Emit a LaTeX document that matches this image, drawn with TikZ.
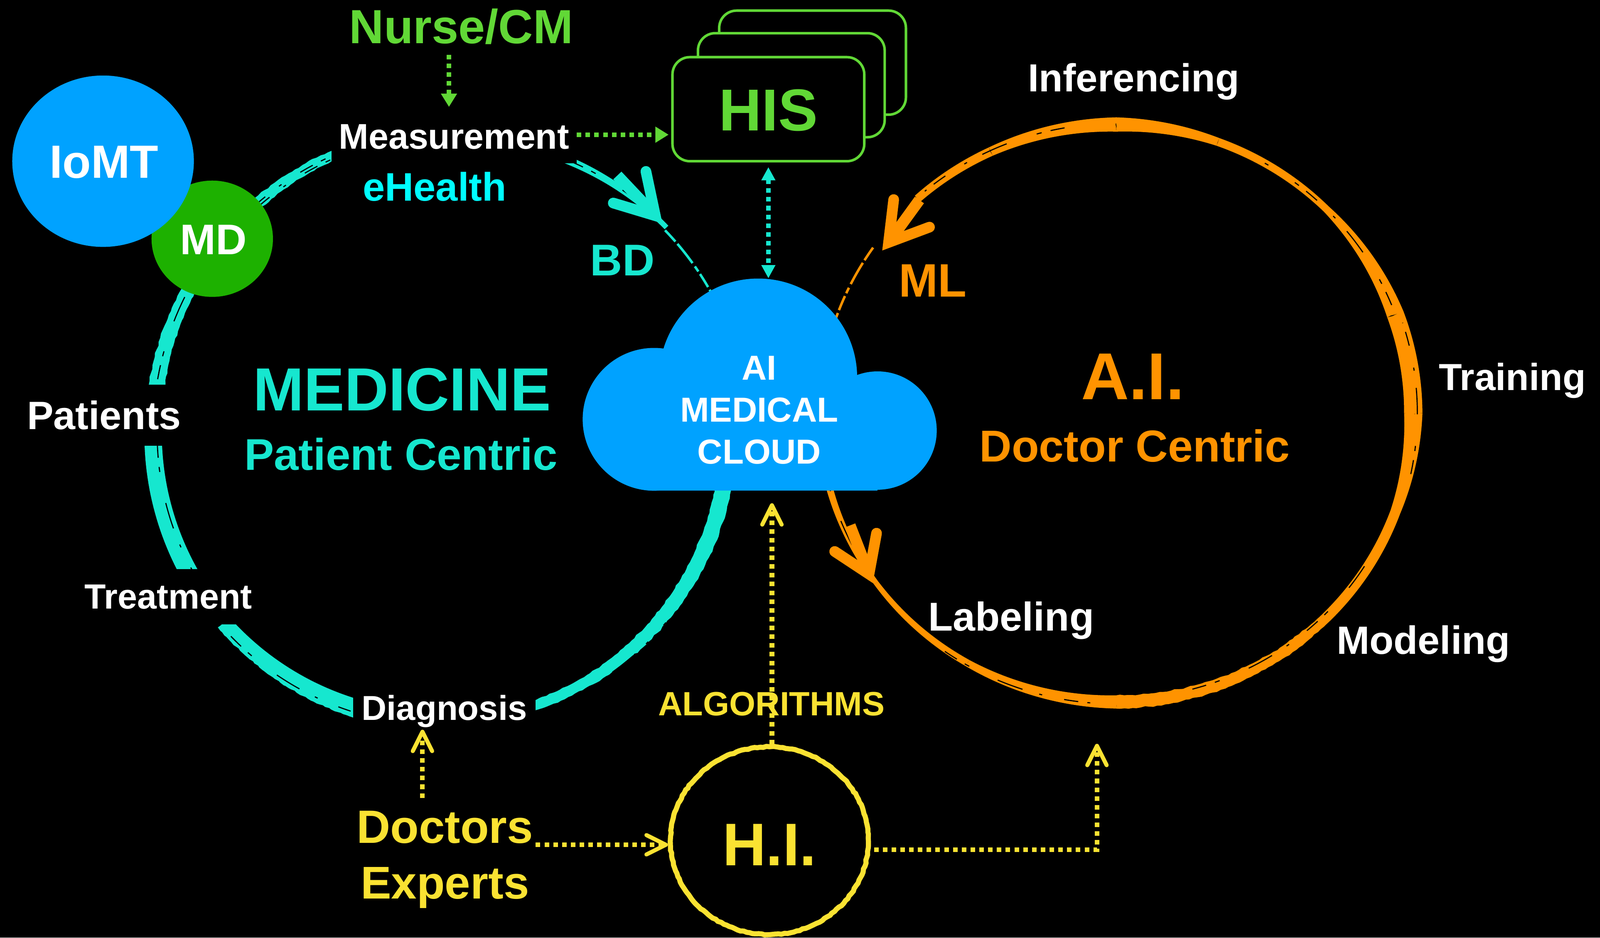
\documentclass[tikz,border=0pt]{standalone}
\usepackage{fontspec}
\setmainfont{Liberation Sans}
\usetikzlibrary{arrows.meta,shapes.geometric,decorations.pathmorphing}
\definecolor{tealmed}{HTML}{16E7CF}
\definecolor{orangeai}{HTML}{FF9300}
\definecolor{greenhis}{HTML}{61D836}
\definecolor{yellowhi}{HTML}{FAE232}
\definecolor{bluecloud}{HTML}{00A2FF}
\definecolor{greenmd}{HTML}{1DB100}
\definecolor{cyanhealth}{HTML}{00FDFF}
\tikzset{
  lbl/.style={inner sep=0pt,font=\bfseries\fontsize{#1}{#1}\selectfont},
  mask/.style={fill=black,inner sep=0pt},
  cloudpart/.style={circle,fill=bluecloud,inner sep=0pt},
  hisbox/.style={draw=greenhis,fill=black,line width=2.5pt,rounded corners=17pt,minimum width=183pt,minimum height=102pt,inner sep=0pt},
  rough/.style={decorate,decoration={random steps,segment length=4pt,amplitude=.8pt}},
  streak/.style={line width=1.1pt,dash pattern=on 14pt off 9pt on 5pt off 31pt on 26pt off 17pt on 3pt off 22pt},
  scratch/.style={line width=2.4pt,dash pattern=on 15pt off 3pt on 24pt off 4pt on 6pt off 3pt},
  barbhead/.style={line width=10.5pt,line cap=round,line join=miter},
  shafthead/.style={line width=11pt},
  dotgreen/.style={greenhis,line width=4.5pt,dash pattern=on 4.5pt off 4.1pt,-{Triangle[length=13pt,width=15pt]}},
  dotteal/.style={tealmed,line width=4.5pt,dash pattern=on 4.5pt off 4.1pt,{Triangle[length=13pt,width=13pt]}-{Triangle[length=13pt,width=13pt]}},
  dotyellow/.style={yellowhi,line width=4.5pt,dash pattern=on 4.5pt off 4.1pt,-{Straight Barb[length=19pt,width=19pt,line width=4pt,round]}}
}
% color, cx, cy, rx, ry, start angle, end angle, start width, end width
\newcommand{\brusharc}[9]{\fill[#1,rough] plot[domain=#6:#7,samples=30,variable=\t] ({#2+(#4+(#8+(#9-#8)*(\t-(#6))/(#7-(#6)))/2)*cos(\t)},{#3+(#5+(#8+(#9-#8)*(\t-(#6))/(#7-(#6)))/2)*sin(\t)}) -- plot[domain=#7:#6,samples=30,variable=\t] ({#2+(#4-(#8+(#9-#8)*(\t-(#6))/(#7-(#6)))/2)*cos(\t)},{#3+(#5-(#8+(#9-#8)*(\t-(#6))/(#7-(#6)))/2)*sin(\t)}) -- cycle;}
\newcommand{\brushline}[7]{\draw[#1] plot[domain=#6:#7,samples=40,variable=\t] ({#2+#4*cos(\t)},{#3+#5*sin(\t)});}
\begin{document}
\begin{tikzpicture}[x=1pt,y=-1pt]
\useasboundingbox (0,0) rectangle (1568,919);
\fill[black] (0,0) rectangle (1568,919);
% medicine ring
\brusharc{tealmed}{446}{423}{296}{296}{184}{250}{16}{9}
\brusharc{tealmed}{432}{425}{282}{282}{182}{148}{17}{18}
\brusharc{tealmed}{432}{425}{282}{282}{139}{103}{15}{19}
\brusharc{tealmed}{432}{425}{282}{282}{75}{8}{9}{17}
\brusharc{tealmed}{446}{423}{288}{288}{291}{316}{8}{5}
\brushline{black,streak}{446}{423}{296}{296}{190}{250}
\brushline{black,streak}{446}{423}{293}{293}{215}{250}
\brushline{black,streak}{432}{425}{278}{278}{178}{150}
\brushline{black,streak}{432}{425}{286}{286}{136}{108}
\brushline{black,streak}{432}{425}{288}{288}{66}{40}
\brushline{black,streak}{446}{423}{288}{288}{293}{312}
\brushline{tealmed,scratch}{446}{423}{286}{284}{316}{331}
% a.i. ring
\brusharc{orangeai}{1094}{405}{291}{283}{170}{144}{7}{5}
\brusharc{orangeai}{1094}{405}{291}{283}{144}{120}{5}{7}
\brusharc{orangeai}{1094}{405}{291}{283}{120}{90}{7}{13}
\brusharc{orangeai}{1094}{405}{291}{283}{90}{45}{13}{10}
\brusharc{orangeai}{1094}{405}{291}{283}{45}{20}{10}{10}
\brusharc{orangeai}{1094}{405}{291}{283}{20}{0}{10}{18}
\brusharc{orangeai}{1094}{405}{291}{283}{0}{-20}{18}{17}
\brusharc{orangeai}{1094}{405}{291}{283}{-20}{-45}{17}{7}
\brusharc{orangeai}{1094}{405}{291}{283}{-45}{-70}{7}{8}
\brusharc{orangeai}{1094}{405}{291}{283}{-70}{-90}{8}{14}
\brusharc{orangeai}{1094}{405}{291}{283}{-90}{-115}{14}{9}
\brusharc{orangeai}{1094}{405}{291}{283}{-115}{-132}{9}{8}
\brushline{black,streak}{1094}{405}{291}{283}{170}{146}
\brushline{black,streak}{1094}{405}{293}{285}{125}{95}
\brushline{black,streak}{1094}{405}{288}{280}{75}{30}
\brushline{black,streak}{1094}{405}{295}{287}{12}{-18}
\brushline{black,streak}{1094}{405}{291}{283}{-22}{-60}
\brushline{black,streak}{1094}{405}{292}{284}{-100}{-130}
\brushline{orangeai,scratch}{1094}{405}{291}{283}{-145}{-162}
% ring heads
\coordinate (tealTail) at (605,172);
\coordinate (tealTip) at (642.2,211.4);
\coordinate (tealArmA) at (633,168);
\coordinate (tealArmB) at (601,199);
\draw[tealmed,shafthead] (tealTail) -- (tealTip);
\draw[tealmed,barbhead] (tealArmA) -- (tealTip) -- (tealArmB);
\coordinate (mlTail) at (901,196);
\coordinate (mlTip) at (870.8,237.6);
\coordinate (mlArmA) at (875.8,195.6);
\coordinate (mlArmB) at (910.9,222.6);
\draw[orangeai,shafthead] (mlTail) -- (mlTip);
\draw[orangeai,barbhead] (mlArmA) -- (mlTip) -- (mlArmB);
\coordinate (lbTail) at (833,515);
\coordinate (lbTip) at (851.6,562.7);
\coordinate (lbArmA) at (859,522.6);
\coordinate (lbArmB) at (818,540.5);
\draw[orangeai,shafthead] (lbTail) -- (lbTip);
\draw[orangeai,barbhead] (lbArmA) -- (lbTip) -- (lbArmB);
% cloud
\node[cloudpart,minimum size=194pt] (nDome) at (743,370){};
\node[cloudpart,minimum size=140pt] (nLobeL) at (641,411){};
\node[cloudpart,minimum size=116pt] (nLobeR) at (860,422){};
\node[fill=bluecloud,inner sep=0pt,minimum width=219pt,minimum height=81pt] (nBase) at (750.5,440.5){};
\node[inner sep=0pt,text=white,align=center,font=\bfseries\fontsize{34}{41}\selectfont] (nCloud) at (744,402){AI\\MEDICAL\\CLOUD};
% devices
\node[ellipse,fill=greenmd,inner sep=0pt,minimum width=119pt,minimum height=114pt] (nMDdisc) at (208,234){};
\node[ellipse,fill=bluecloud,inner sep=0pt,minimum width=178pt,minimum height=168pt] (nIoMTdisc) at (101,158){};
\node[lbl=45.7,text=white] (nIoMT) at (102,159){IoMT};
\node[lbl=42,text=white] (nMD) at (209,235){MD};
% his stack
\node[hisbox] (nHISc) at (796.3,61.4){};
\node[hisbox] (nHISb) at (775.5,83.5){};
\node[hisbox,minimum width=188pt] (nHIS) at (753,107){};
\node[lbl=58,text=greenhis] (nHIStext) at (753,108){HIS};
% ring labels
\node[mask,lbl=35,text=white,minimum width=240pt,minimum height=52pt] (nMeasure) at (445,134){Measurement};
\node[mask,lbl=38.8,text=white,minimum width=165pt,minimum height=60pt] (nPatients) at (102,407){Patients};
\node[mask,lbl=34.3,text=white,minimum width=180pt,minimum height=54pt] (nTreat) at (165,585){Treatment};
\node[mask,lbl=33.9,text=white,minimum width=179pt,minimum height=54pt] (nDiag) at (435.5,697){Diagnosis};
\node[lbl=47,text=greenhis] (nNurse) at (452,26){Nurse/CM};
\node[lbl=39,text=cyanhealth] (nHealth) at (426,183){eHealth};
\node[lbl=43.6,text=tealmed] (nBD) at (610,255){BD};
\node[lbl=59.7,text=tealmed] (nMedicine) at (394,382){MEDICINE};
\node[lbl=43.5,text=tealmed] (nCentricP) at (393,445){Patient Centric};
\node[lbl=46,text=orangeai] (nML) at (914,275){ML};
\node[lbl=65,text=orangeai] (nAI) at (1110,369){A.I.};
\node[lbl=43.8,text=orangeai] (nCentricD) at (1112,437){Doctor Centric};
\node[lbl=38.4,text=white] (nInfer) at (1111,80){Inferencing};
\node[lbl=37,text=white] (nTrain) at (1482,373){Training};
\node[lbl=38.7,text=white] (nModel) at (1395,631){Modeling};
\node[lbl=39.5,text=white] (nLabel) at (991,608){Labeling};
\node[lbl=33,text=yellowhi] (nAlgo) at (756,690){ALGORITHMS};
\node[lbl=45.8,text=yellowhi] (nDoctors) at (436,811){Doctors};
\node[lbl=45,text=yellowhi] (nExperts) at (436,870){Experts};
\node[ellipse,draw=yellowhi,line width=5pt,inner sep=0pt,minimum width=194pt,minimum height=184pt,decorate,decoration={random steps,segment length=3pt,amplitude=.45pt}] (nHI) at (754,824){};
\node[lbl=59,text=yellowhi] (nHItext) at (754,828){H.I.};
% connectors
\coordinate (dgStart) at (414,782);
\coordinate (dhStart) at (525,828);
\coordinate (aiEnd) at (1075,729);
\draw[dotgreen] ([xshift=-12pt,yshift=-10pt]nNurse.south) -- ([xshift=-5pt,yshift=3pt]nMeasure.north);
\draw[dotgreen,shorten >=2.5pt] ([yshift=2pt]nMeasure.east) -- ([yshift=2pt]nMeasure.east -| nHIS.west);
\draw[dotteal,shorten <=4.5pt] (nHIS.south) -- (nHIS.south |- nDome.north);
\draw[dotyellow] (dgStart) -- ([xshift=-21.5pt,yshift=9pt]nDiag.south);
\draw[dotyellow] (dhStart) -- (dhStart -| nHI.west);
\draw[dotyellow,shorten >=12pt] ([xshift=2.5pt]nHI.north) -- ([xshift=6pt]nBase.south);
\draw[dotyellow] ([xshift=3pt,yshift=-9pt]nHI.east) -| (aiEnd);
\end{tikzpicture}
\end{document}
